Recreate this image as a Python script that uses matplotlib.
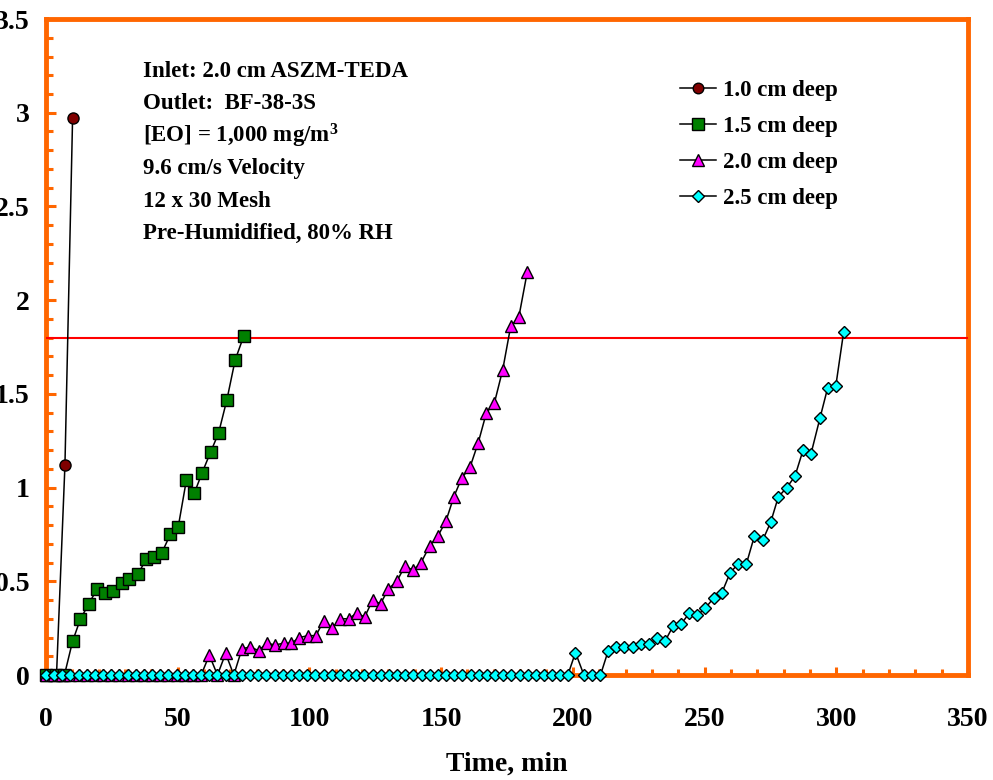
import numpy as np
import matplotlib.pyplot as plt
from matplotlib.ticker import MultipleLocator, FixedLocator, FixedFormatter

plt.rcParams['font.family'] = ['Liberation Serif', 'DejaVu Serif']
plt.rcParams['font.weight'] = 'bold'
plt.rcParams['mathtext.fontset'] = 'custom'
plt.rcParams['mathtext.rm'] = 'Liberation Serif:bold'
plt.rcParams['mathtext.it'] = 'Liberation Serif:bold'

# ---- data ----
t1 = [0.0, 4.0, 7.2, 10.1]
c1 = [0, 0, 1.12, 2.97]

t2 = [0.0, 3.8, 7.0, 10.1, 13.1, 16.3, 19.4, 22.5, 25.5, 28.7, 31.6, 35.0, 38.1,
      41.0, 43.9, 47.2, 50.2, 53.3, 56.3, 59.3, 62.5, 65.5, 68.7, 71.8, 75.1]
c2 = [0, 0, 0, 0.18, 0.30, 0.38, 0.46, 0.44, 0.45, 0.49, 0.51, 0.54, 0.62,
      0.63, 0.65, 0.75, 0.79, 1.04, 0.97, 1.08, 1.19, 1.29, 1.47, 1.68, 1.81]

t3 = [0.0, 3.1, 6.2, 9.3, 12.4, 15.5, 18.6, 21.7, 24.8, 27.9, 31.0, 34.1, 37.2,
      40.3, 43.4, 46.5, 49.6, 52.7, 55.8, 58.9, 62.0, 65.1, 68.2, 71.3, 74.4,
      77.6, 80.7, 83.8, 87.0, 90.2, 93.2, 96.2, 99.4, 102.5, 105.4, 108.6, 111.7,
      114.9, 117.9, 121.0, 124.0, 127.0, 130.0, 133.2, 136.2, 139.4, 142.4, 145.7,
      148.7, 151.8, 154.8, 157.8, 161.0, 164.1, 167.2, 170.2, 173.4, 176.4, 179.5,
      182.7]
c3 = [0, 0, 0, 0, 0, 0, 0, 0, 0, 0, 0, 0, 0,
      0, 0, 0, 0, 0, 0, 0, 0.106, 0, 0.115, 0, 0.14,
      0.15, 0.13, 0.17, 0.16, 0.17, 0.17, 0.20, 0.21, 0.21, 0.29, 0.25, 0.30,
      0.30, 0.33, 0.31, 0.40, 0.38, 0.46, 0.50, 0.58, 0.56, 0.60, 0.69,
      0.74, 0.82, 0.95, 1.05, 1.11, 1.24, 1.40, 1.45, 1.63, 1.86, 1.91,
      2.15]

t4 = [0.0, 3.1, 6.2, 9.3, 12.4, 15.5, 18.6, 21.7, 24.8, 27.9, 31.0, 34.1, 37.2,
      40.3, 43.4, 46.5, 49.6, 52.7, 55.8, 58.9, 62.0, 65.1, 68.2, 71.3, 74.4,
      77.5, 80.6, 83.7, 86.8, 89.9, 93.0, 96.1, 99.2, 102.3, 105.4, 108.5, 111.6,
      114.7, 117.8, 120.9, 124.0, 127.1, 130.2, 133.3, 136.4, 139.5, 142.6, 145.7,
      148.8, 151.9, 155.0, 158.1, 161.2, 164.3, 167.4, 170.5, 173.6, 176.7, 179.8,
      182.9, 186.0, 189.1, 192.2, 195.3, 198.1, 201.0, 204.2, 207.3, 210.5, 213.4,
      216.5, 219.6, 222.7, 225.8, 228.8, 231.9, 235.0, 238.0, 241.0, 244.2, 247.3,
      250.2, 253.4, 256.6, 259.7, 262.8, 265.9, 268.9, 272.1, 275.1, 278.0, 281.2,
      284.3, 287.4, 290.4, 293.8, 296.7, 299.8, 302.8]
c4 = [0, 0, 0, 0, 0, 0, 0, 0, 0, 0, 0, 0, 0,
      0, 0, 0, 0, 0, 0, 0, 0, 0, 0, 0, 0,
      0, 0, 0, 0, 0, 0, 0, 0, 0, 0, 0, 0,
      0, 0, 0, 0, 0, 0, 0, 0, 0, 0, 0,
      0, 0, 0, 0, 0, 0, 0, 0, 0, 0, 0,
      0, 0, 0, 0, 0, 0, 0.12, 0, 0, 0, 0.128,
      0.147, 0.147, 0.147, 0.168, 0.165, 0.195, 0.18, 0.26, 0.27, 0.33, 0.32,
      0.355, 0.41, 0.44, 0.545, 0.594, 0.594, 0.74, 0.72, 0.815, 0.95, 1.00,
      1.06, 1.20, 1.18, 1.37, 1.53, 1.54, 1.83]

labels = ['1.0 cm deep', '1.5 cm deep', '2.0 cm deep', '2.5 cm deep']
breakthrough = 1.80

notes = ['Inlet: 2.0 cm ASZM-TEDA',
         'Outlet:  BF-38-3S',
         r'[EO] = 1,000 mg/m$^3$',
         '9.6 cm/s Velocity',
         '12 x 30 Mesh',
         'Pre-Humidified, 80% RH']

xticks = [0, 50, 100, 150, 200, 250, 300, 350]
yticks = [0, 0.5, 1, 1.5, 2, 2.5, 3, 3.5]
ytick_labels = ['0', '0.5', '1', '1.5', '2', '2.5', '3', '3.5']

orange = '#FF6600'

fig = plt.figure(figsize=(9.93, 7.8), dpi=100)
ax = fig.add_axes([0.0463, 0.1346, 0.9285, 0.841])

ax.axhline(breakthrough, color='red', lw=1.5, zorder=2)

kw = dict(color='black', lw=1.1, mec='black', mew=1.0, clip_on=False, zorder=5)
ax.plot(t1, c1, marker='o', ms=8, mfc='#800000', label=labels[0], **kw)
ax.plot(t2, c2, marker='s', ms=8.5, mfc='#008000', label=labels[1], **kw)
ax.plot(t3, c3, marker='^', ms=8.5, mfc='#FF00FF', label=labels[2], **kw)
ax.plot(t4, c4, marker='D', ms=6, mfc='#00FFFF', label=labels[3], **kw)

ax.set_xlim(0, 350)
ax.set_ylim(0, 3.5)

for s in ax.spines.values():
    s.set_color(orange)
    s.set_linewidth(3.5)
    s.set_zorder(1)

ax.xaxis.set_major_locator(FixedLocator(xticks))
ax.xaxis.set_minor_locator(MultipleLocator(10))
ax.yaxis.set_major_locator(FixedLocator(yticks))
ax.yaxis.set_major_formatter(FixedFormatter(ytick_labels))
ax.yaxis.set_minor_locator(MultipleLocator(0.1))

ax.tick_params(axis='x', which='major', direction='in', length=6, width=2.2,
               color=orange, labelsize=20, pad=23)
ax.tick_params(axis='x', which='minor', direction='in', length=4, width=2.2,
               color=orange)
ax.tick_params(axis='y', which='major', direction='in', length=7, width=2.2,
               color=orange, labelsize=20, pad=12)
ax.tick_params(axis='y', which='minor', direction='in', length=5, width=2.2,
               color=orange)
for lab in ax.get_xticklabels() + ax.get_yticklabels():
    lab.set_fontweight('bold')

ax.set_xlabel('Time, min', fontsize=20, fontweight='bold', labelpad=14)

# annotation block
y0 = 0.92
for i, line in enumerate(notes):
    ax.text(0.105, y0 - i * 0.0494, line, transform=ax.transAxes,
            fontsize=16.5, fontweight='bold', va='center', ha='left')

ax.legend(loc='upper left', bbox_to_anchor=(0.675, 0.925), frameon=False,
          handlelength=1.6, handletextpad=0.3, labelspacing=0.66,
          markerscale=0.95, borderpad=0, prop={'weight': 'bold', 'size': 16.5})

fig.savefig('out.png', dpi=100)
